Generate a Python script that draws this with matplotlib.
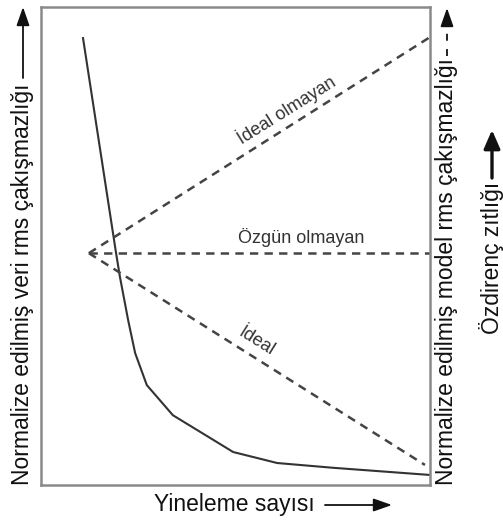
import matplotlib
matplotlib.use("Agg")
import matplotlib.pyplot as plt

plt.rcParams['font.family'] = ['Liberation Sans', 'DejaVu Sans']
plt.rcParams['lines.scale_dashes'] = False

# Data (normalised 0-100 axes units)
curve_x = [10.8, 19.3, 20.3, 22.4, 24.2, 27.2, 33.9, 49.4, 60.7, 75.1, 100.0]
curve_y = [93.5, 48.5, 43.5, 34.5, 27.6, 20.9, 14.6, 6.9, 4.6, 3.6, 2.1]

apex = (12.3, 48.5)
upper_end = (100.0, 93.7)
flat_end = (100.0, 48.5)
lower_end = (98.7, 4.2)

labels = ["İdeal olmayan", "Özgün olmayan", "İdeal"]
label_pos = [(63.0, 78.5), (67.0, 51.7), (55.5, 29.9)]
label_rot = [32, 0, -32]

xlabel = "Yineleme sayısı"
ylabel_left = "Normalize edilmiş veri rms çakışmazlığı"
ylabel_right = "Normalize edilmiş model rms çakışmazlığı"
ylabel_far = "Özdirenç zıtlığı"

W, H = 503, 521
fig = plt.figure(figsize=(W / 100, H / 100), dpi=100)
ax = fig.add_axes([41 / W, 1 - 485 / H, (430 - 41) / W, (485 - 7) / H])
ax.set_xlim(0, 100)
ax.set_ylim(0, 100)
ax.set_xticks([])
ax.set_yticks([])
for s in ax.spines.values():
    s.set_color('#8a8a8a')
    s.set_linewidth(1.8)

ax.plot(curve_x, curve_y, color='#333333', lw=1.5, solid_joinstyle='round')
dash_kw = dict(color='#444444', lw=1.8, dashes=(6, 4.5))
for end in (upper_end, flat_end, lower_end):
    ax.plot([apex[0], end[0]], [apex[1], end[1]], **dash_kw)

for t, (x, y), r in zip(labels, label_pos, label_rot):
    ax.text(x, y, t, rotation=r, ha='center', va='center', fontsize=13,
            color='#333333', rotation_mode='anchor')

def fx(px):
    return px / W

def fy(py):
    return 1 - py / H

lab_kw = dict(fontsize=16.5, color='#111111', ha='center', va='center')
fig.text(fx(23), fy(284), ylabel_left, rotation=90, **lab_kw)
fig.text(fx(447), fy(272), ylabel_right, rotation=90, **lab_kw)
fig.text(fx(492), fy(258), ylabel_far, rotation=90, **lab_kw)
fig.text(fx(234), fy(504), xlabel, **lab_kw)

def arrow(x0, y0, x1, y1, lw=1.3, ls='-', head='-|>,head_length=0.8,head_width=0.28'):
    fig.add_artist(matplotlib.patches.FancyArrowPatch(
        (fx(x0), fy(y0)), (fx(x1), fy(y1)), transform=fig.transFigure,
        arrowstyle=head, mutation_scale=14, color='#111111', lw=lw,
        linestyle=ls, shrinkA=0, shrinkB=0))

arrow(23, 78, 23, 7)
arrow(325, 505, 392, 505)
arrow(492, 178, 492, 130, lw=2.4, head='-|>,head_length=0.8,head_width=0.35')
# dashed right arrow: dashes then head
fig.add_artist(matplotlib.lines.Line2D([fx(447), fx(447)], [fy(56), fy(24)],
               transform=fig.transFigure, color='#111111', lw=1.3,
               dashes=(5, 6)))
arrow(447, 26, 447, 8)

fig.savefig("out.png", dpi=100)
